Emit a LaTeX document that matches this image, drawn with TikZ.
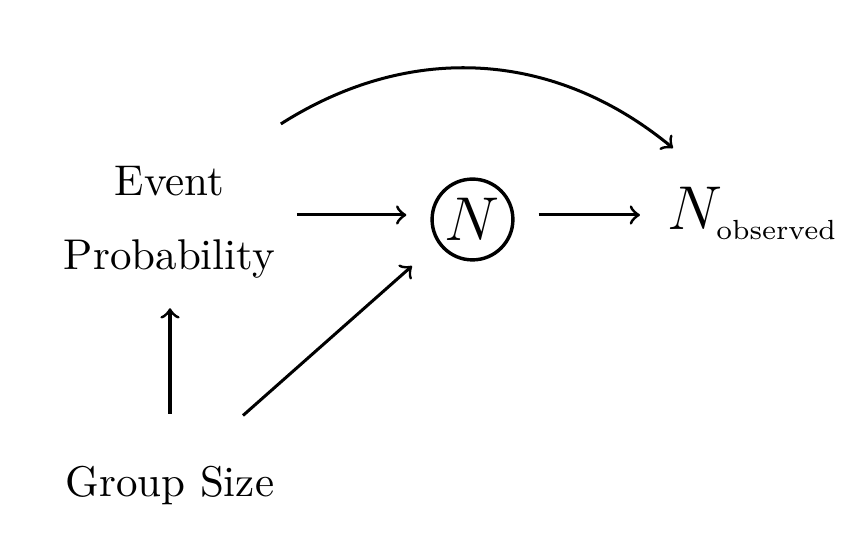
\documentclass[tikz,border=0pt]{standalone}
\usepackage{graphicx}
\usetikzlibrary{calc}
\begin{document}
\begin{tikzpicture}[x=0.2326pt,y=-0.2326pt,
  lbl/.style={inner sep=0pt, font=\normalsize},
  arr/.style={->, line width=0.7pt},
  circ/.style={draw, circle, line width=0.8pt, minimum size=18.8pt, inner sep=0pt, font=\Large}]
\useasboundingbox (0,0) rectangle (868,554);
\node[lbl, align=center] (ep) at (169.5,222.4) {Event\\[5.2pt]Probability};
\node[lbl, anchor=base] (gs) at (170,497) {Group Size};
\node[circ] (nc) at (472.5,219.5) {$N$};
\node[lbl, anchor=base west, font=\Large] (nobs) at (667,230) {$N_{\scalebox{0.92}{$\scriptscriptstyle\mathrm{observed}$}}$};
% arrows
\draw[arr] ([shift={(21,0)}]ep.east |- 0,215) -- ([shift={(-24,0)}]nc.west |- 0,215);
\draw[arr] ([shift={(24,0)}]nc.east |- 0,215) -- ([shift={(-27,0)}]nobs.west |- 0,215);
\draw[arr] ([shift={(0,-52)}]gs.north) -- ([shift={(0,29)}]gs.north |- ep.south);
\draw[arr] ([shift={(73,-70.5)}]gs.center) -- ([shift={(-60.5,46.5)}]nc.center);
\draw[arr] ([shift={(5,-41.6)}]ep.north east) to[bend left=36] ([shift={(6,-38.7)}]nobs.north west);
\end{tikzpicture}
\end{document}
